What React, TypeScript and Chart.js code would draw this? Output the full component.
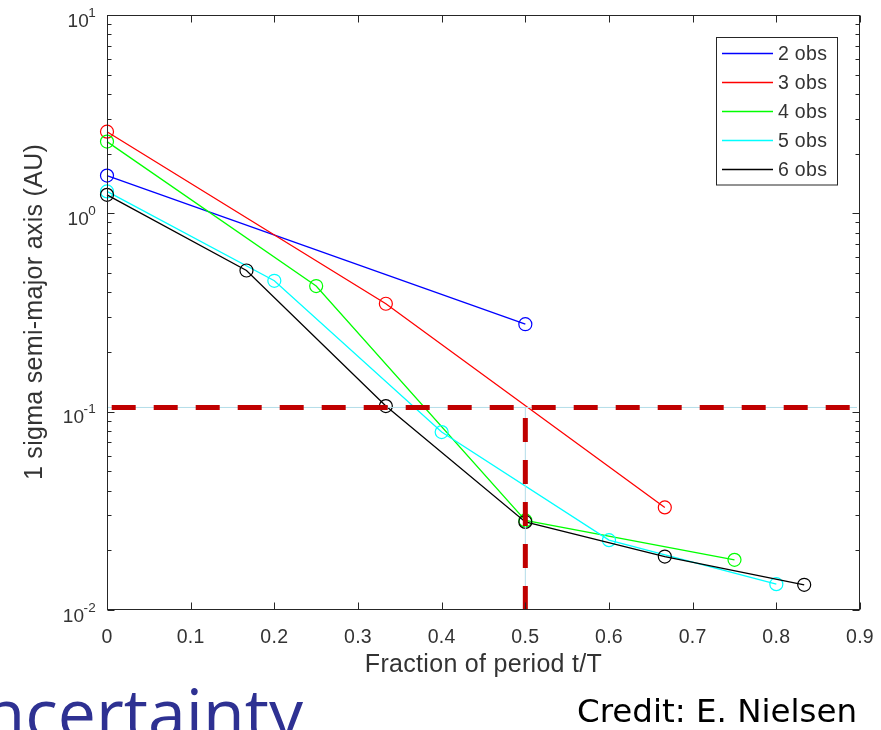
import { useEffect, useRef } from "react";
import { Chart, registerables } from "chart.js";

Chart.register(...registerables);

// 1-sigma semi-major axis uncertainty vs. fraction of the orbital period covered
const seriesLabels = ["2 obs", "3 obs", "4 obs", "5 obs", "6 obs"];
const seriesColors = ["#0000ff", "#ff0000", "#00ff00", "#00ffff", "#000000"];

const obs2X = [0, 0.5];
const obs2Y = [1.55, 0.276];
const obs3X = [0, 0.3333, 0.6667];
const obs3Y = [2.58, 0.35, 0.0329];
const obs4X = [0, 0.25, 0.5, 0.75];
const obs4Y = [2.3, 0.43, 0.0283, 0.0179];
const obs5X = [0, 0.2, 0.4, 0.6, 0.8];
const obs5Y = [1.29, 0.457, 0.0789, 0.0225, 0.0135];
const obs6X = [0, 0.1667, 0.3333, 0.5, 0.6667, 0.8333];
const obs6Y = [1.24, 0.515, 0.1067, 0.0278, 0.0186, 0.0134];

const xTicks = [0, 0.1, 0.2, 0.3, 0.4, 0.5, 0.6, 0.7, 0.8, 0.9];
const xTickLabels = ["0", "0.1", "0.2", "0.3", "0.4", "0.5", "0.6", "0.7", "0.8", "0.9"];
const yDecadeExponents = [-2, -1, 0, 1];
const yMinorMultipliers = [2, 3, 4, 5, 6, 7, 8, 9];

const xTitle = "Fraction of period t/T";
const yTitle = "1 sigma semi-major axis (AU)";
const slideTitle = "ncertainty";
const creditText = "Credit: E. Nielsen";

// Reference crosshair: half a period and the corresponding 3-obs uncertainty
const refX = 0.5;
const refY = 0.105;

const xSeries = [obs2X, obs3X, obs4X, obs5X, obs6X];
const ySeries = [obs2Y, obs3Y, obs4Y, obs5Y, obs6Y];

const AXIS_COLOR = "#262626";
const LABEL_COLOR = "#333333";
const FONT = '"Liberation Sans", Arial, sans-serif';

const matlabFrame = {
  id: "matlabFrame",
  afterDatasetsDraw(chart: any) {
    const { ctx, chartArea, scales } = chart;
    const { left, right, bottom } = chartArea;
    const px = scales.x.getPixelForValue(refX);
    const py = scales.y.getPixelForValue(refY);
    ctx.save();
    // thin guide lines underneath the dashes
    ctx.strokeStyle = "#b3dde8";
    ctx.lineWidth = 1;
    ctx.beginPath();
    ctx.moveTo(left, py);
    ctx.lineTo(right - 3, py);
    ctx.moveTo(px, py);
    ctx.lineTo(px, bottom);
    ctx.stroke();
    // heavy dashed crosshair
    ctx.strokeStyle = "#c00000";
    ctx.lineWidth = 5;
    ctx.lineCap = "butt";
    ctx.setLineDash([24, 18]);
    ctx.lineDashOffset = 37.3;
    ctx.beginPath();
    ctx.moveTo(left, py);
    ctx.lineTo(right, py);
    ctx.stroke();
    ctx.lineDashOffset = 0;
    ctx.beginPath();
    ctx.moveTo(px, bottom);
    ctx.lineTo(px, py);
    ctx.stroke();
    ctx.restore();
  },
  afterDraw(chart: any) {
    const { ctx, chartArea, scales } = chart;
    const { left, right, top, bottom } = chartArea;
    const L = Math.round(left) + 0.5;
    const R = Math.round(right) - 0.5;
    const T = Math.round(top) + 0.5;
    const B = Math.round(bottom) - 0.5;
    ctx.save();
    ctx.strokeStyle = AXIS_COLOR;
    ctx.lineWidth = 1;
    ctx.setLineDash([]);
    ctx.strokeRect(L, T, R - L, B - T);

    // x ticks (inward, bottom and top)
    ctx.beginPath();
    xTicks.forEach((v) => {
      const x = Math.round(scales.x.getPixelForValue(v)) + 0.5;
      ctx.moveTo(x, B);
      ctx.lineTo(x, B - 7);
      ctx.moveTo(x, T);
      ctx.lineTo(x, T + 7);
    });
    // y ticks: decades and minor ticks
    yDecadeExponents.forEach((e) => {
      const y = Math.round(scales.y.getPixelForValue(Math.pow(10, e))) + 0.5;
      ctx.moveTo(L, y);
      ctx.lineTo(L + 7, y);
      ctx.moveTo(R, y);
      ctx.lineTo(R - 7, y);
      if (e < yDecadeExponents[yDecadeExponents.length - 1]) {
        yMinorMultipliers.forEach((m) => {
          const ym = Math.round(scales.y.getPixelForValue(m * Math.pow(10, e))) + 0.5;
          ctx.moveTo(L, ym);
          ctx.lineTo(L + 4, ym);
          ctx.moveTo(R, ym);
          ctx.lineTo(R - 4, ym);
        });
      }
    });
    ctx.stroke();

    // x tick labels
    ctx.fillStyle = LABEL_COLOR;
    ctx.font = `19.5px ${FONT}`;
    (ctx as any).letterSpacing = "0.3px";
    ctx.textAlign = "center";
    ctx.textBaseline = "middle";
    xTicks.forEach((v, i) => {
      ctx.fillText(xTickLabels[i], scales.x.getPixelForValue(v), bottom + 28);
    });

    // y tick labels as 10 with superscript exponent
    ctx.textAlign = "right";
    yDecadeExponents.forEach((e) => {
      const y = scales.y.getPixelForValue(Math.pow(10, e));
      const sup = String(e);
      ctx.font = `13.5px ${FONT}`;
      (ctx as any).letterSpacing = "0.3px";
      const supW = ctx.measureText(sup).width;
      const supRight = left - 11;
      ctx.fillText(sup, supRight, y - 2);
      ctx.font = `19px ${FONT}`;
      (ctx as any).letterSpacing = "0.3px";
      ctx.fillText("10", supRight - supW + 1, y + 6.5);
    });

    // axis titles
    ctx.font = `25px ${FONT}`;
    (ctx as any).letterSpacing = "0.3px";
    ctx.textAlign = "center";
    ctx.textBaseline = "alphabetic";
    ctx.fillText(xTitle, (left + right) / 2, bottom + 62);
    ctx.save();
    ctx.translate(42, 312);
    ctx.rotate(-Math.PI / 2);
    ctx.fillText(yTitle, 0, 0);
    ctx.restore();

    // legend
    const lx = 716.5, ly = 37.5, lw = 121, lh = 147.5;
    ctx.fillStyle = "#ffffff";
    ctx.fillRect(lx, ly, lw, lh);
    ctx.strokeStyle = AXIS_COLOR;
    ctx.lineWidth = 1;
    ctx.strokeRect(lx, ly, lw, lh);
    ctx.font = `19.5px ${FONT}`;
    (ctx as any).letterSpacing = "0.3px";
    ctx.textAlign = "left";
    ctx.textBaseline = "middle";
    seriesLabels.forEach((name, i) => {
      const ry = 53.5 + i * 29;
      ctx.strokeStyle = seriesColors[i];
      ctx.lineWidth = 1.3;
      ctx.beginPath();
      ctx.moveTo(722, ry);
      ctx.lineTo(773, ry);
      ctx.stroke();
      ctx.fillStyle = LABEL_COLOR;
      ctx.fillText(name, 778, ry + 1);
    });
    ctx.restore();
  },
};

export default function App() {
  const canvasRef = useRef<HTMLCanvasElement | null>(null);

  useEffect(() => {
    const canvas = canvasRef.current;
    if (!canvas) return;
    const datasets = seriesLabels.map((label, i) => ({
      label,
      data: xSeries[i].map((x, j) => ({ x, y: ySeries[i][j] })),
      borderColor: seriesColors[i],
      pointBorderColor: seriesColors[i],
      backgroundColor: "rgba(0,0,0,0)",
      pointBackgroundColor: "rgba(0,0,0,0)",
      borderWidth: 1.3,
      pointRadius: 6.5,
      pointBorderWidth: 1.2,
      tension: 0,
      clip: false as any,
      order: seriesLabels.length - 1 - i,
    }));
    const chart = new Chart(canvas, {
      type: "line",
      data: { datasets },
      options: {
        animation: false,
        responsive: false,
        maintainAspectRatio: false,
        layout: { padding: { left: 107, top: 15, right: 21, bottom: 120 } },
        plugins: {
          legend: { display: false },
          tooltip: { enabled: false },
        },
        scales: {
          x: { type: "linear", min: 0, max: 0.9, display: false },
          y: { type: "logarithmic", min: 0.01, max: 10, display: false },
        },
      },
      plugins: [matlabFrame],
    });
    return () => chart.destroy();
  }, []);

  return (
    <div
      style={{
        position: "absolute",
        left: 0,
        top: 0,
        width: 881,
        height: 730,
        overflow: "hidden",
        background: "#ffffff",
      }}
    >
      <canvas ref={canvasRef} width={881} height={730} style={{ position: "absolute", left: 0, top: 0 }} />
      <div
        style={{
          position: "absolute",
          right: 578,
          top: 678,
          fontFamily: '"Open Sans", sans-serif',
          fontSize: 68,
          lineHeight: "68px",
          color: "#2e3192",
          whiteSpace: "nowrap",
        }}
      >
        {slideTitle}
      </div>
      <div
        style={{
          position: "absolute",
          left: 577,
          top: 695,
          fontFamily: '"DejaVu Sans", Verdana, sans-serif',
          fontSize: 32.5,
          lineHeight: "32.5px",
          color: "#000000",
          whiteSpace: "nowrap",
        }}
      >
        {creditText}
      </div>
    </div>
  );
}
